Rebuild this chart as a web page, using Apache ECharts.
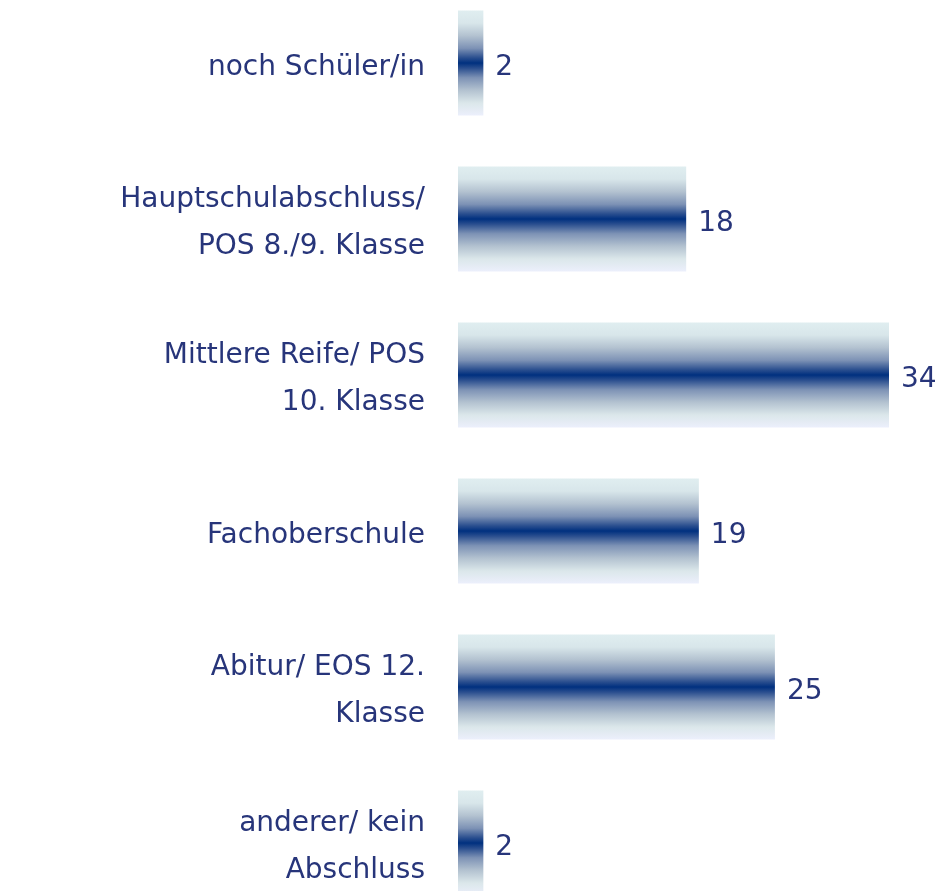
<!DOCTYPE html>
<html><head><meta charset="utf-8">
<script src="https://cdn.jsdelivr.net/npm/echarts@6/dist/echarts.min.js"></script>
<style>html,body{margin:0;padding:0;background:#fff}#c{width:949px;height:891px}</style>
</head><body><div id="c"></div>
<script>
const categories = ["noch Schüler/in","Hauptschulabschluss/\nPOS 8./9. Klasse","Mittlere Reife/ POS\n10. Klasse","Fachoberschule","Abitur/ EOS 12.\nKlasse","anderer/ kein\nAbschluss"];
const values = [2,18,34,19,25,2];

const chart = echarts.init(document.getElementById('c'), null, {renderer:'canvas'});
const grad = new echarts.graphic.LinearGradient(0,0,0,1,[
  {offset:0,color:'#e0eef0'},
  {offset:0.12,color:'#d8e6ea'},
  {offset:0.24,color:'#b3c2d0'},
  {offset:0.36,color:'#7d92b5'},
  {offset:0.45,color:'#2b4f8f'},
  {offset:0.5,color:'#00307f'},
  {offset:0.55,color:'#2b4f8f'},
  {offset:0.64,color:'#7d92b5'},
  {offset:0.76,color:'#b3c2d0'},
  {offset:0.88,color:'#dbe7ea'},
  {offset:1,color:'#eceffc'}
]);
chart.setOption({
  animation:false,
  grid:{left:458,width:431,top:-15,height:936,containLabel:false,outerBoundsMode:'none'},
  xAxis:{type:'value',min:0,max:34,show:false},
  yAxis:{type:'category',inverse:true,data:categories,
    axisLine:{show:false},axisTick:{show:false},splitLine:{show:false},
    axisLabel:{margin:33,fontFamily:'DejaVu Sans',fontSize:28,color:'#27357a',lineHeight:47,align:'right',verticalAlign:'middle',
      formatter:function(v){return '{a|'+v.split('\n').join('}\n{a|')+'}';},
      rich:{a:{fontFamily:'DejaVu Sans',fontSize:28,color:'#27357a',lineHeight:47,padding:[9,0,0,0]}}}},
  series:[{type:'bar',data:values,barWidth:105,
    itemStyle:{color:grad},
    label:{show:true,position:'right',distance:12,offset:[0,5],fontFamily:'DejaVu Sans',fontSize:28,color:'#27357a'}}]
});
</script></body></html>
